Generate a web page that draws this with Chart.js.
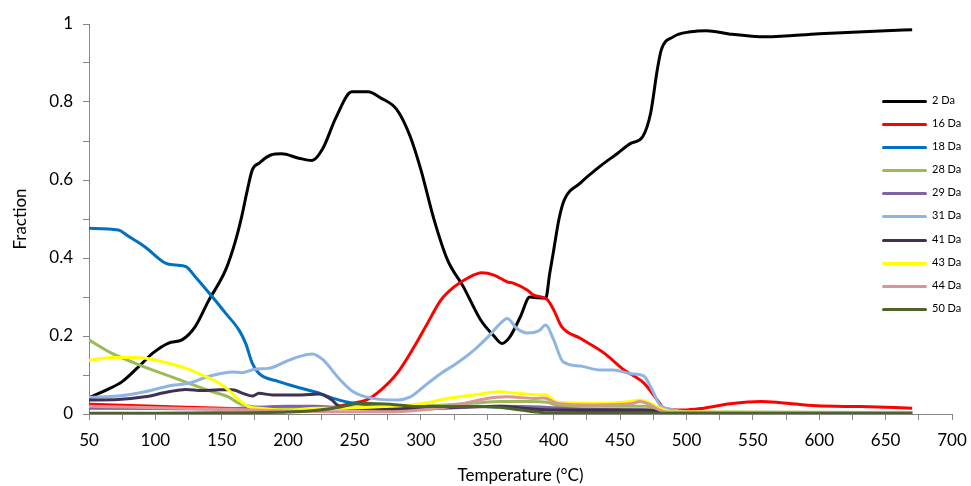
<!DOCTYPE html>
<html>
<head>
<meta charset="utf-8">
<script src="https://cdn.jsdelivr.net/npm/chart.js@4/dist/chart.umd.min.js"></script>
<style>
  html, body { margin: 0; padding: 0; background: #fff; }
  #wrap { position: relative; width: 971px; height: 486px; }
  #legend { position: absolute; left: 882px; top: 94px; font-family: Lato, "Open Sans", sans-serif; font-size: 11px; color: #000; }
  .item { position: relative; height: 23.1px; }
  .sw { position: absolute; left: 0; top: 6px; width: 45px; height: 3px; border-radius: 1.5px; }
  .lbl { position: absolute; left: 50px; top: -1px; white-space: nowrap; }
</style>
</head>
<body>
<div id="wrap">
  <canvas id="c" width="971" height="486"></canvas>
  <div id="legend"></div>
</div>
<script>
// ---- data ----
const seriesNames = ["2 Da", "16 Da", "18 Da", "28 Da", "29 Da", "31 Da", "41 Da", "43 Da", "44 Da", "50 Da"];
const seriesColors = ["#000000", "#FF0000", "#0070C0", "#9BBB59", "#8064A2", "#8EB4E3", "#403152", "#FFFF00", "#D99694", "#4F6228"];

const t2 = [50, 62, 75, 87, 98, 110, 120, 130, 140, 153, 160, 165, 169, 173, 178, 187, 195, 208, 218, 226, 236, 248, 260, 270, 282, 292, 300, 310, 320, 332, 345, 355, 361, 367, 375, 382, 388, 394, 397, 400, 404, 408, 420, 436, 448, 458, 467, 473, 478, 481, 490, 503, 515, 533, 560, 600, 650, 670];
const v2 = [0.042, 0.06, 0.083, 0.12, 0.156, 0.182, 0.19, 0.224, 0.29, 0.37, 0.44, 0.506, 0.57, 0.626, 0.643, 0.664, 0.667, 0.656, 0.65, 0.68, 0.76, 0.826, 0.826, 0.81, 0.78, 0.711, 0.626, 0.497, 0.395, 0.326, 0.241, 0.2, 0.181, 0.198, 0.25, 0.30, 0.298, 0.297, 0.36, 0.42, 0.5, 0.549, 0.592, 0.638, 0.668, 0.694, 0.711, 0.771, 0.882, 0.933, 0.967, 0.98, 0.983, 0.974, 0.967, 0.975, 0.983, 0.985];

const t16 = [50, 100, 150, 200, 230, 247, 259, 270, 282, 295, 305, 315, 325, 335, 346, 355, 365, 370, 380, 385, 395, 400, 406, 420, 438, 453, 468, 478, 483, 498, 513, 533, 556, 571, 598, 631, 670];
const v16 = [0.025, 0.02, 0.015, 0.012, 0.015, 0.027, 0.036, 0.062, 0.104, 0.173, 0.233, 0.292, 0.326, 0.348, 0.362, 0.356, 0.339, 0.335, 0.318, 0.305, 0.294, 0.267, 0.224, 0.194, 0.156, 0.113, 0.079, 0.036, 0.015, 0.01, 0.015, 0.026, 0.032, 0.029, 0.021, 0.019, 0.015];

const t18 = [50, 72, 80, 92, 108, 115, 123, 130, 143, 153, 163, 168, 173, 178, 193, 210, 222, 234, 247, 270, 300, 330, 360, 400, 450, 480, 500, 670];
const v18 = [0.476, 0.472, 0.455, 0.429, 0.386, 0.382, 0.378, 0.352, 0.30, 0.258, 0.215, 0.181, 0.13, 0.104, 0.083, 0.066, 0.055, 0.04, 0.029, 0.022, 0.02, 0.02, 0.018, 0.01, 0.008, 0.005, 0.003, 0.003];

const t28 = [50, 67, 85, 105, 125, 143, 155, 163, 173, 200, 250, 300, 340, 360, 382, 395, 405, 440, 470, 480, 490, 670];
const v28 = [0.19, 0.156, 0.13, 0.104, 0.079, 0.057, 0.044, 0.027, 0.019, 0.015, 0.015, 0.02, 0.028, 0.032, 0.032, 0.03, 0.02, 0.02, 0.02, 0.005, 0.003, 0.003];

const t29 = [50, 100, 150, 200, 220, 240, 280, 320, 360, 390, 420, 470, 485, 670];
const v29 = [0.015, 0.014, 0.013, 0.02, 0.02, 0.016, 0.012, 0.015, 0.02, 0.018, 0.012, 0.01, 0.003, 0.003];

const t31 = [50, 72, 92, 110, 125, 140, 158, 165, 175, 185, 198, 208, 218, 226, 233, 237, 249, 264, 282, 292, 302, 315, 327, 340, 352, 360, 365, 372, 380, 389, 394, 400, 407, 420, 435, 445, 458, 468, 473, 480, 488, 500, 670];
const v31 = [0.043, 0.046, 0.057, 0.072, 0.079, 0.096, 0.108, 0.106, 0.115, 0.117, 0.134, 0.147, 0.154, 0.14, 0.113, 0.096, 0.057, 0.04, 0.036, 0.044, 0.07, 0.104, 0.13, 0.164, 0.203, 0.233, 0.245, 0.22, 0.208, 0.214, 0.228, 0.19, 0.134, 0.123, 0.113, 0.113, 0.103, 0.097, 0.07, 0.023, 0.012, 0.006, 0.004];

const t41 = [50, 72, 92, 110, 123, 135, 148, 158, 166, 173, 178, 188, 210, 223, 233, 237, 247, 280, 330, 360, 380, 400, 470, 485, 670];
const v41 = [0.036, 0.037, 0.044, 0.057, 0.063, 0.06, 0.062, 0.062, 0.053, 0.046, 0.053, 0.049, 0.049, 0.051, 0.036, 0.023, 0.015, 0.013, 0.018, 0.02, 0.014, 0.01, 0.01, 0.003, 0.003];

const t43 = [50, 67, 85, 98, 110, 123, 135, 148, 155, 163, 170, 178, 198, 223, 234, 272, 302, 320, 340, 360, 372, 390, 393, 403, 433, 458, 465, 473, 480, 490, 670];
const v43 = [0.137, 0.145, 0.145, 0.14, 0.13, 0.117, 0.1, 0.079, 0.062, 0.036, 0.019, 0.015, 0.01, 0.015, 0.015, 0.019, 0.027, 0.04, 0.049, 0.057, 0.053, 0.049, 0.05, 0.03, 0.027, 0.032, 0.036, 0.027, 0.015, 0.005, 0.004];

const t44 = [50, 100, 150, 200, 250, 280, 300, 322, 347, 365, 385, 393, 403, 433, 458, 465, 473, 480, 490, 670];
const v44 = [0.02, 0.016, 0.012, 0.008, 0.006, 0.006, 0.01, 0.019, 0.038, 0.044, 0.04, 0.041, 0.027, 0.023, 0.026, 0.032, 0.023, 0.01, 0.004, 0.003];

const t50 = [50, 100, 150, 200, 220, 234, 252, 260, 277, 297, 322, 347, 365, 385, 400, 670];
const v50 = [0.002, 0.002, 0.003, 0.005, 0.009, 0.015, 0.026, 0.027, 0.025, 0.019, 0.019, 0.019, 0.015, 0.006, 0.002, 0.002];

const xTicks = [50, 100, 150, 200, 250, 300, 350, 400, 450, 500, 550, 600, 650, 700];
const yTicks = [0, 0.2, 0.4, 0.6, 0.8, 1];
const xTitle = "Temperature (°C)";
const yTitle = "Fraction";

// ---- build ----
const xs = [t2, t16, t18, t28, t29, t31, t41, t43, t44, t50];
const ys = [v2, v16, v18, v28, v29, v31, v41, v43, v44, v50];
const N = seriesNames.length;
const datasets = seriesNames.map((name, i) => ({
  label: name,
  data: xs[i].map((x, k) => ({ x: x, y: ys[i][k] })),
  borderColor: seriesColors[i],
  backgroundColor: seriesColors[i],
  borderWidth: 3,
  pointRadius: 0,
  showLine: true,
  fill: false,
  cubicInterpolationMode: 'monotone',
  order: N - i
}));

const FONT = 'Lato, "Open Sans", sans-serif';
const axisGrey = '#868686';

new Chart(document.getElementById('c'), {
  type: 'scatter',
  data: { datasets },
  options: {
    responsive: false,
    animation: false,
    devicePixelRatio: 1,
    layout: { padding: { left: 0, right: 19, top: 24, bottom: 0 } },
    plugins: { legend: { display: false }, tooltip: { enabled: false } },
    scales: {
      x: {
        type: 'linear', min: xTicks[0], max: xTicks[xTicks.length - 1],
        afterFit: s => { s.height = 72; s.paddingRight = 0; s.paddingLeft = 0; },
        afterBuildTicks: s => { const a = []; for (let v = 50; v <= 700; v += 25) a.push({ value: v }); s.ticks = a; },
        ticks: {
          autoSkip: false, maxRotation: 0, padding: 10, color: '#000',
          font: { family: FONT, size: 17 },
          callback: v => (xTicks.includes(v) ? String(v) : '')
        },
        grid: { drawOnChartArea: false, drawTicks: true, tickLength: 6, color: axisGrey },
        border: { color: axisGrey, width: 1 },
        title: { display: true, text: xTitle, color: '#000', font: { family: FONT, size: 17 }, padding: { top: 8, bottom: 0 } }
      },
      y: {
        type: 'linear', min: 0, max: 1,
        afterFit: s => { s.width = 89; },
        afterBuildTicks: s => { const a = []; for (let k = 0; k <= 10; k++) a.push({ value: k / 10 }); s.ticks = a; },
        ticks: {
          autoSkip: false, padding: 10, color: '#000',
          font: { family: FONT, size: 17 },
          callback: v => { const r = Math.round(v * 10); return r % 2 === 0 ? String(r / 10) : ''; }
        },
        grid: { drawOnChartArea: false, drawTicks: true, tickLength: 6, color: axisGrey },
        border: { color: axisGrey, width: 1 },
        title: { display: true, text: yTitle, color: '#000', font: { family: FONT, size: 17 }, padding: { top: 10, bottom: 0 } }
      }
    }
  }
});

// ---- legend ----
const lg = document.getElementById('legend');
seriesNames.forEach((name, i) => {
  const d = document.createElement('div');
  d.className = 'item';
  d.innerHTML = '<span class="sw" style="background:' + seriesColors[i] + '"></span><span class="lbl">' + name + '</span>';
  lg.appendChild(d);
});
</script>
</body>
</html>
